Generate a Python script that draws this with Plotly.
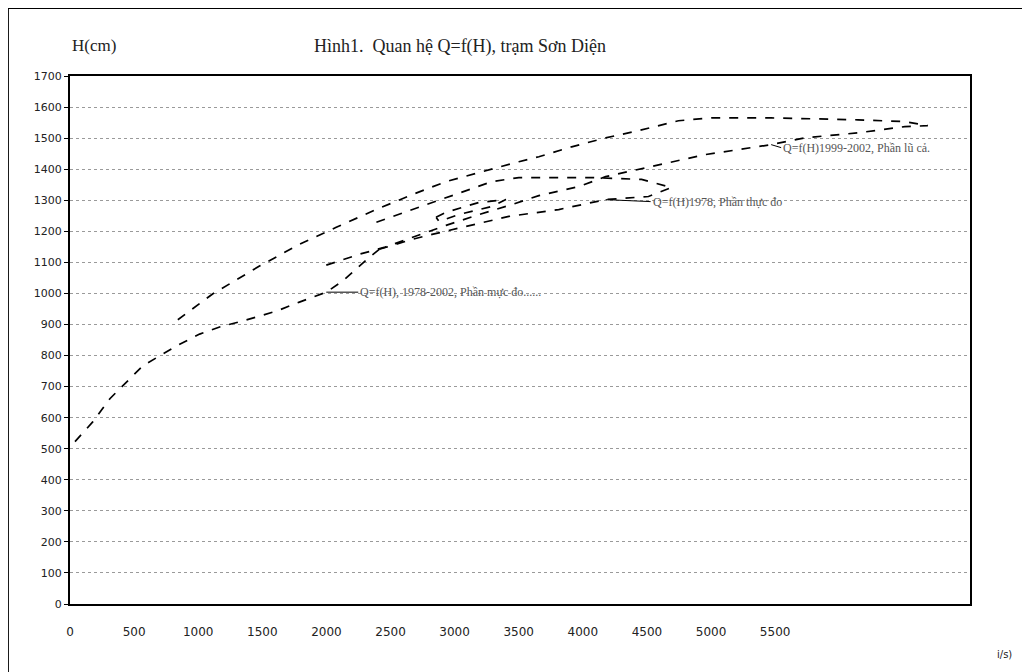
import plotly.graph_objects as go

# ---- data (Q in m3/s, H in cm) ----
low_Q = [39, 179, 311, 443, 568, 700, 832, 1011, 1167, 1346, 1610, 1789, 1999, 2124, 2256, 2334, 2412]
low_H = [523, 587, 661, 715, 767, 799, 831, 869, 892, 911, 943, 972, 1004, 1039, 1088, 1116, 1142]

l78_Q = [2412, 2668, 2824, 3089, 3423, 3812, 4178, 4512, 4691, 4458, 4069, 3812, 3501, 3291, 2956, 2668, 2388]
l78_H = [1142, 1174, 1190, 1216, 1248, 1270, 1302, 1312, 1341, 1367, 1373, 1373, 1373, 1360, 1312, 1270, 1229]

inner_Q = [2855, 2933, 3190, 3400, 3291, 3034, 2879, 2855]
inner_H = [1245, 1261, 1293, 1302, 1280, 1254, 1232, 1245]

flood_Q = [1999, 2256, 2451, 2668, 2933, 3190, 3447, 3657, 3968, 4178, 4435, 4691, 4956, 5213, 5469,
           5734, 5991, 6146, 6512, 6691, 6613, 6512, 6146, 5858, 5469, 5002, 4746, 4435, 4178, 3913,
           3657, 3501, 3213, 2933, 2668, 2388, 2077, 1789, 1478, 1112, 817]
flood_H = [1091, 1126, 1148, 1181, 1219, 1254, 1286, 1315, 1344, 1376, 1399, 1424, 1447, 1463, 1479,
           1501, 1511, 1517, 1537, 1540, 1546, 1553, 1559, 1562, 1565, 1565, 1556, 1524, 1501, 1472,
           1440, 1424, 1392, 1360, 1318, 1270, 1213, 1158, 1088, 998, 908]

x_ticks = [0, 500, 1000, 1500, 2000, 2500, 3000, 3500, 4000, 4500, 5000, 5500]
y_ticks = list(range(0, 1701, 100))

labels = ["Q=f(H)1999-2002, Phần lũ cả.", "Q=f(H)1978, Phần thực đo", "Q=f(H), 1978-2002, Phần mực đo......"]

line_style = dict(color="black", width=1.7, dash="dash")

fig = go.Figure()
for qs, hs in [(low_Q, low_H), (l78_Q, l78_H), (inner_Q, inner_H), (flood_Q, flood_H)]:
    fig.add_trace(go.Scatter(x=qs, y=hs, mode="lines", line=line_style, showlegend=False,
                             hoverinfo="skip"))

ann_font = dict(family="Liberation Serif", size=12, color="#555")
fig.add_annotation(x=5469, y=1479, text=labels[0], showarrow=True, arrowhead=0, arrowwidth=1,
                   arrowcolor="black", ax=10, ay=3, xanchor="left", font=ann_font)
fig.add_annotation(x=4178, y=1302, text=labels[1], showarrow=True, arrowhead=0, arrowwidth=1,
                   arrowcolor="black", ax=45, ay=2, xanchor="left", font=ann_font)
fig.add_annotation(x=1999, y=1004, text=labels[2], showarrow=True, arrowhead=0, arrowwidth=1,
                   arrowcolor="black", ax=32, ay=0, xanchor="left", font=ann_font)

fig.add_annotation(x=0.433, y=1.08, xref="paper", yref="paper", showarrow=False,
                   text="Hình1.  Quan hệ Q=f(H), trạm Sơn Diện",
                   font=dict(family="Liberation Serif", size=18, color="#222"))
fig.add_annotation(x=0.0, y=1.08, xref="paper", yref="paper", showarrow=False,
                   text="H(cm)", xanchor="left",
                   font=dict(family="Liberation Serif", size=17, color="#222"))
fig.add_annotation(x=1.028, y=-0.11, xref="paper", yref="paper", showarrow=False,
                   text="i/s)", xanchor="left",
                   font=dict(family="DejaVu Sans", size=10, color="#222"))

# outer scanned-page border (left and top)
fig.add_shape(type="line", xref="paper", yref="paper", x0=-0.069, x1=-0.069, y0=-0.15, y1=1.129,
              line=dict(color="black", width=2))
fig.add_shape(type="line", xref="paper", yref="paper", x0=-0.069, x1=1.08, y0=1.129, y1=1.129,
              line=dict(color="black", width=2))

fig.update_layout(
    width=1030, height=672,
    margin=dict(l=62, r=68, t=68, b=76),
    paper_bgcolor="white", plot_bgcolor="white",
    font=dict(family="DejaVu Sans", size=11, color="#222"),
)
fig.update_xaxes(range=[0, 7020], tickvals=x_ticks, ticktext=[str(v) for v in x_ticks],
                 showgrid=False, zeroline=False, showline=True, linecolor="black", linewidth=2,
                 mirror=True, ticks="", ticklabelstandoff=16,
                 tickfont=dict(family="DejaVu Sans", size=12, color="#222"))
fig.update_yaxes(range=[0, 1700], tickvals=y_ticks, ticktext=[str(v) for v in y_ticks],
                 showgrid=True, gridcolor="#9a9a9a", griddash="dot", gridwidth=1,
                 zeroline=False, showline=True, linecolor="black", linewidth=2, mirror=True,
                 ticks="outside", ticklen=4, tickcolor="black",
                 tickfont=dict(family="DejaVu Sans", size=11, color="#222"))

fig.write_html("out.html")
